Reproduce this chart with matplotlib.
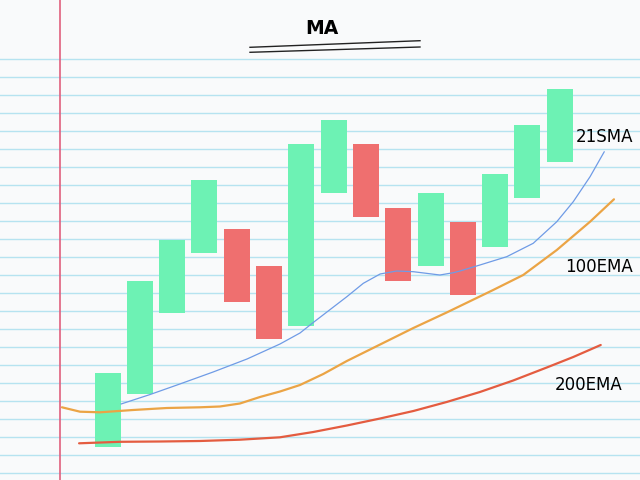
import matplotlib.pyplot as plt
import numpy as np

# candles (arbitrary price units)
opens = [3.3, 8.6, 16.7, 22.7, 25.1, 21.4, 15.4, 28.7, 33.6, 27.2, 21.4, 25.8, 23.3, 28.2, 31.8]
closes = [10.7, 19.9, 24.0, 30.0, 17.8, 14.1, 33.6, 36.0, 26.3, 19.9, 28.7, 18.5, 30.6, 35.5, 39.1]

# moving averages (x in candle index units)
sma21_x = [0.42, 1.32, 2.24, 3.27, 4.32, 5.34, 5.96, 6.37, 7.41, 7.92, 8.44, 8.95, 9.47, 10.29,
           10.71, 10.91, 11.53, 12.36, 13.18, 13.91, 14.42, 14.94, 15.38]
sma21_y = [7.6, 8.55, 9.6, 10.8, 12.1, 13.6, 14.7, 15.75, 18.33, 19.67, 20.6, 20.9, 20.83, 20.5,
           20.73, 20.9, 21.5, 22.33, 23.67, 25.83, 27.83, 30.33, 32.83]

ema100_x = [-1.41, -0.85, -0.23, 0.79, 1.84, 2.86, 3.48, 4.10, 4.72, 5.34, 5.96, 6.68, 7.41, 8.44,
            9.47, 10.50, 11.94, 12.87, 13.91, 14.94, 15.68]
ema100_y = [7.27, 6.83, 6.77, 7.0, 7.2, 7.27, 7.35, 7.65, 8.3, 8.85, 9.5, 10.6, 11.9, 13.55,
            15.2, 16.75, 19.0, 20.5, 23.0, 25.83, 28.07]

ema200_x = [-0.88, 0.39, 1.63, 2.86, 4.10, 5.34, 6.37, 7.41, 8.44, 9.47, 10.50, 11.53, 12.56,
            13.60, 14.42, 15.27]
ema200_y = [3.67, 3.82, 3.85, 3.9, 4.03, 4.27, 4.8, 5.45, 6.15, 6.9, 7.8, 8.8, 9.95,
            11.25, 12.3, 13.5]

labels = ['21SMA', '100EMA', '200EMA']

GREEN = '#6df2b4'
RED = '#ef6f6f'
PAPER = '#f9fafb'
RULE = '#b6e3f0'

fig = plt.figure(figsize=(6.4, 4.8), dpi=100)
fig.patch.set_facecolor(PAPER)

# notebook paper in pixel coordinates
bg = fig.add_axes([0, 0, 1, 1])
bg.set_xlim(0, 640)
bg.set_ylim(480, 0)
bg.axis('off')
for yy in np.arange(59.3, 480, 18):
    bg.axhline(yy, color=RULE, lw=1.0, zorder=0)
bg.axvline(60, color='#e0607e', lw=1.2, zorder=1)

# title with double underline
bg.text(322, 29, 'MA', ha='center', va='center', fontsize=13.5, color='black',
        fontweight='bold', family='DejaVu Sans')
bg.plot([250, 420], [47.3, 40.7], color='#222222', lw=1.0)
bg.plot([250, 420], [52.3, 47.0], color='#222222', lw=1.0)

# chart layer
ax = fig.add_axes([0, 0, 1, 1])
ax.patch.set_alpha(0)
ax.set_xlim(-107.5 / 32.3, (640 - 107.5) / 32.3)
ax.set_ylim(0, 48)
ax.axis('off')

idx = np.arange(len(opens))
o = np.array(opens)
c = np.array(closes)
colors = [GREEN if cc > oo else RED for oo, cc in zip(o, c)]
ax.bar(idx, c - o, bottom=o, width=26 / 32.3, color=colors, zorder=2)

line_kw = dict(solid_joinstyle='round', solid_capstyle='round', zorder=3)
ax.plot(sma21_x, sma21_y, color='#6f9be6', lw=0.9, **line_kw)
ax.plot(ema100_x, ema100_y, color='#eba445', lw=1.6, **line_kw)
ax.plot(ema200_x, ema200_y, color='#e45c40', lw=1.6, **line_kw)

ax.text(15.39, 34.33, labels[0], ha='center', va='center', fontsize=12, zorder=4)
ax.text(15.21, 21.33, labels[1], ha='center', va='center', fontsize=12, zorder=4)
ax.text(14.89, 9.47, labels[2], ha='center', va='center', fontsize=12, zorder=4)

plt.savefig('out.png', dpi=100, facecolor=fig.get_facecolor())
